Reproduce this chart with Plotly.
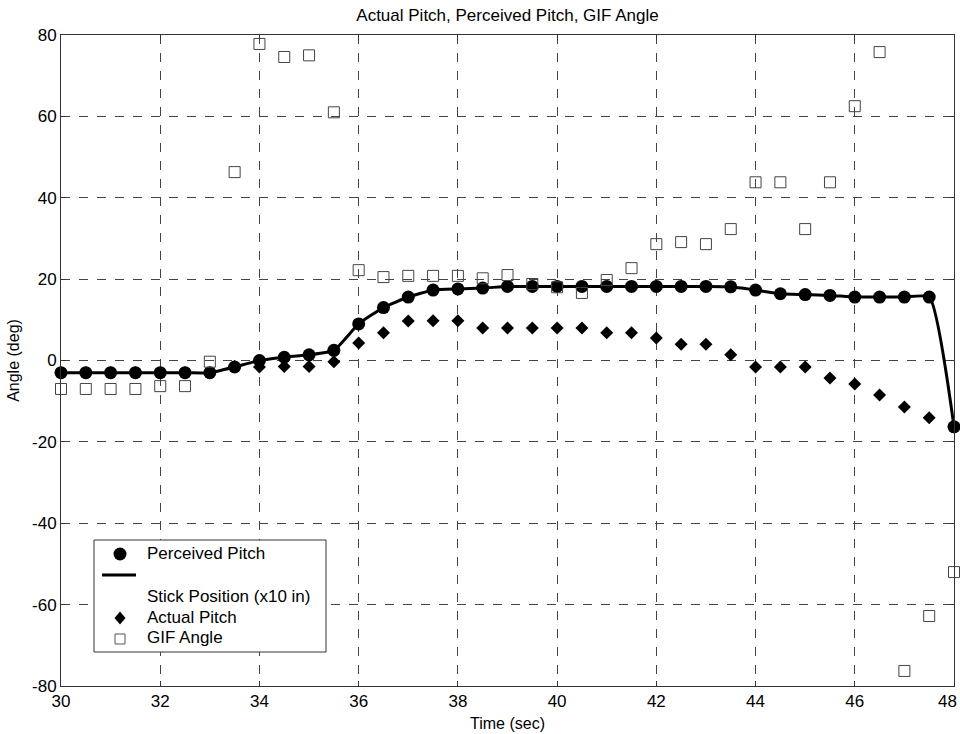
import plotly.graph_objects as go

time = [30 + 0.5 * i for i in range(37)]

perceived_pitch = [-3, -3, -3, -3, -3, -3, -3, -1.6, 0, 0.8, 1.4, 2.5, 9, 13, 15.6, 17.3, 17.6, 17.8, 18.2,
                   18.2, 18.2, 18.2, 18.2, 18.2, 18.2, 18.2, 18.2, 18.1, 17.3, 16.4, 16.2, 16.0, 15.6, 15.6, 15.6, 15.6, -16.3]

actual_pitch = [-3, -3, -3, -3, -3, -3, -3, -1.5, -1.6, -1.5, -1.5, -0.3, 4.3, 6.8, 9.7, 9.8, 9.8, 8.0, 8.0,
                8.0, 8.0, 8.0, 6.8, 6.8, 5.5, 4.0, 4.0, 1.4, -1.6, -1.6, -1.6, -4.3, -5.8, -8.5, -11.4, -14.1, -16.3]

gif_angle = [-7, -7, -7, -7, -6.3, -6.3, -0.3, 46.3, 77.8, 74.6, 75, 61, 22.2, 20.5, 20.8, 20.8, 20.8, 20.2, 21,
             18.8, 18, 16.6, 19.8, 22.7, 28.6, 29.1, 28.6, 32.3, 43.8, 43.8, 32.3, 43.8, 62.5, 75.8, -76.3, -62.8, -52]

x_ticks = [30, 32, 34, 36, 38, 40, 42, 44, 46, 48]
x_tick_labels = ["30", "32", "34", "36", "38", "40", "42", "44", "46", ""]
last_x_label = "48"
y_ticks = [-80, -60, -40, -20, 0, 20, 40, 60, 80]
y_tick_labels = ["-80", "-60", "-40", "-20", "0", "20", "40", "60", "80"]

legend_labels = ["Perceived Pitch", "Stick Position (x10 in)", "Actual Pitch", "GIF Angle"]

FONT = "Arial, Liberation Sans, Helvetica, sans-serif"
FS = 17

# plot-area geometry (pixels)
L, R, T, B = 61, 954, 35, 686
W, H = R - L, B - T


def px(xp):
    return (xp - L) / W


def py(yp):
    return (B - yp) / H


fig = go.Figure()

fig.add_trace(go.Scatter(x=time, y=perceived_pitch, mode="lines", name="Stick Position (x10 in)",
                         line=dict(color="black", width=3, shape="spline", smoothing=0.5),
                         showlegend=False, cliponaxis=False))
fig.add_trace(go.Scatter(x=time, y=perceived_pitch, mode="markers", name=legend_labels[0],
                         marker=dict(symbol="circle", size=13, color="black"), cliponaxis=False,
                         showlegend=False))
fig.add_trace(go.Scatter(x=time, y=actual_pitch, mode="markers", name=legend_labels[2],
                         marker=dict(symbol="diamond", size=10, color="black"), cliponaxis=False,
                         showlegend=False))
fig.add_trace(go.Scatter(x=time, y=gif_angle, mode="markers", name=legend_labels[3],
                         marker=dict(symbol="square-open", size=11, color="#444444", line=dict(width=1)),
                         cliponaxis=False, showlegend=False))

axis_common = dict(
    showgrid=True, gridcolor="#444444", griddash="dash", gridwidth=1,
    showline=True, linecolor="#333333", linewidth=1, mirror="ticks",
    ticks="inside", ticklen=5, tickcolor="#333333",
    tickfont=dict(family=FONT, size=FS, color="black"),
    zeroline=False, automargin=False, ticklabeloverflow="allow",
)

# ---- legend drawn as shapes + annotations (MATLAB style layout) ----
shapes = []
annotations = []
shapes.append(dict(type="rect", xref="paper", yref="paper", x0=px(94), x1=px(326), y0=py(540), y1=py(652),
                   fillcolor="white", line=dict(color="#333333", width=1), layer="above"))
sym_x = px(120)
shapes.append(dict(type="circle", xref="paper", yref="paper", xsizemode="pixel", ysizemode="pixel",
                   xanchor=sym_x, yanchor=py(554), x0=-6.5, x1=6.5, y0=-6.5, y1=6.5,
                   fillcolor="black", line=dict(color="black", width=0), layer="above"))
shapes.append(dict(type="line", xref="paper", yref="paper", x0=px(102), x1=px(136), y0=py(575), y1=py(575),
                   line=dict(color="black", width=3), layer="above"))
shapes.append(dict(type="path", xref="paper", yref="paper", xsizemode="pixel", ysizemode="pixel",
                   xanchor=sym_x, yanchor=py(618), path="M 0,6.5 L 5.5,0 L 0,-6.5 L -5.5,0 Z",
                   fillcolor="black", line=dict(color="black", width=0), layer="above"))
shapes.append(dict(type="rect", xref="paper", yref="paper", xsizemode="pixel", ysizemode="pixel",
                   xanchor=sym_x, yanchor=py(639), x0=-5, x1=5, y0=-5, y1=5,
                   fillcolor="white", line=dict(color="#555555", width=1), layer="above"))

text_y = [553, 596, 617, 637]
for lab, ty in zip(legend_labels, text_y):
    annotations.append(dict(text=lab, xref="paper", yref="paper", x=px(145), y=py(ty),
                            xanchor="left", yanchor="middle", showarrow=False,
                            font=dict(family=FONT, size=FS, color="black")))

# last x tick label kept inside the page
annotations.append(dict(text=last_x_label, xref="paper", yref="paper", x=px(959), y=py(701),
                        xanchor="right", yanchor="middle", showarrow=False,
                        font=dict(family=FONT, size=FS, color="black")))

fig.update_layout(
    width=960, height=734,
    margin=dict(l=L, r=960 - R, t=T, b=734 - B),
    paper_bgcolor="white", plot_bgcolor="white",
    font=dict(family=FONT, size=FS, color="black"),
    showlegend=False,
    title=dict(text="Actual Pitch, Perceived Pitch, GIF Angle", x=0.5, xanchor="center",
               xref="paper", y=1 - 15 / 734, yanchor="middle", font=dict(family=FONT, size=FS)),
    xaxis=dict(range=[30, 48], tickvals=x_ticks, ticktext=x_tick_labels,
               title=dict(text="Time (sec)", standoff=7, font=dict(family=FONT, size=16)), **axis_common),
    yaxis=dict(range=[-80, 80], tickvals=y_ticks, ticktext=y_tick_labels,
               title=dict(text="Angle (deg)", standoff=8, font=dict(family=FONT, size=16)), **axis_common),
    shapes=shapes,
    annotations=annotations,
)

fig.write_html("out.html", config={"displayModeBar": False},
               post_script="document.body.style.margin='0';document.body.style.padding='0';")
